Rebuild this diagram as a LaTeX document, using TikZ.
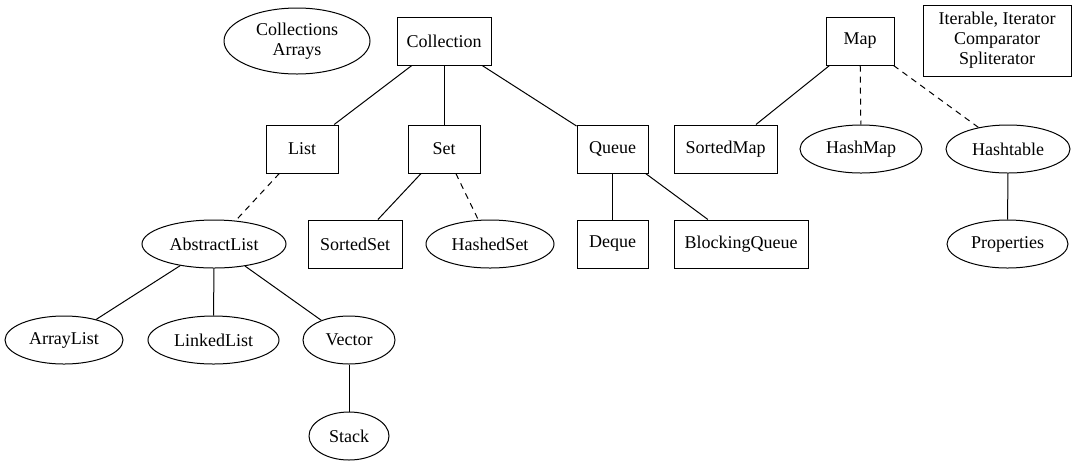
\documentclass[tikz,border=0pt]{standalone}
\usepackage{fontspec}
\setmainfont{Liberation Serif}
\usetikzlibrary{shapes.geometric}
\begin{document}
\begin{tikzpicture}[x=1pt,y=-1pt,
  every node/.style={font=\fontsize{18}{20}\selectfont, inner sep=0pt, line width=1pt, align=center},
  bx/.style={draw, rectangle, minimum height=48pt},
  el/.style={draw, ellipse, minimum height=48pt},
  ln/.style={line width=1pt},
  dl/.style={line width=1pt, dash pattern=on 6pt off 5pt}]
\useasboundingbox (0,0) rectangle (1075,467);
\node[el, minimum width=146pt, minimum height=66pt] (ca) at (297,41) {Collections\\Arrays};
\node[bx, minimum width=94pt] (coll) at (444,41) {Collection};
\node[bx, minimum width=68pt] (map) at (860,41) {Map};
\node[bx, minimum width=148pt, minimum height=71pt] (iter) at (997,40.5) {Iterable, Iterator\\Comparator\\Spliterator};
\node[bx, minimum width=72pt] (list) at (302,149) {List};
\node[bx, minimum width=72pt] (set) at (444,149) {Set};
\node[bx, minimum width=71pt] (queue) at (612.5,149) {Queue};
\node[bx, minimum width=103pt] (smap) at (725.5,149) {SortedMap};
\node[el, minimum width=122pt] (hmap) at (861,149) {HashMap};
\node[el, minimum width=124pt] (htab) at (1008,149) {Hashtable};
\node[el, minimum width=144pt] (alist) at (214,244) {AbstractList};
\node[bx, minimum width=94pt] (sset) at (355,244) {SortedSet};
\node[el, minimum width=128pt] (hset) at (490,244) {HashedSet};
\node[bx, minimum width=71pt] (deque) at (612.5,244) {Deque};
\node[bx, minimum width=134pt] (bq) at (741,244) {BlockingQueue};
\node[el, minimum width=121pt] (prop) at (1007.5,244) {Properties};
\node[el, minimum width=118pt] (alst) at (64,340) {ArrayList};
\node[el, minimum width=131pt] (llst) at (213.5,340) {LinkedList};
\node[el, minimum width=92pt] (vec) at (349,340) {Vector};
\node[el, minimum width=80pt] (stack) at (349,436) {Stack};
\draw[ln] (coll) -- (list);
\draw[ln] (coll) -- (set);
\draw[ln] (coll) -- (queue);
\draw[dl] (list) -- (alist);
\draw[ln] (set) -- (sset);
\draw[dl] (set) -- (hset);
\draw[ln] (queue) -- (deque);
\draw[ln] (queue) -- (bq);
\draw[ln] (map) -- (smap);
\draw[dl] (map) -- (hmap);
\draw[dl] (map) -- (htab);
\draw[ln] (htab) -- (prop);
\draw[ln] (alist) -- (alst);
\draw[ln] (alist) -- (llst);
\draw[ln] (alist) -- (vec);
\draw[ln] (vec) -- (stack);
\end{tikzpicture}
\end{document}
